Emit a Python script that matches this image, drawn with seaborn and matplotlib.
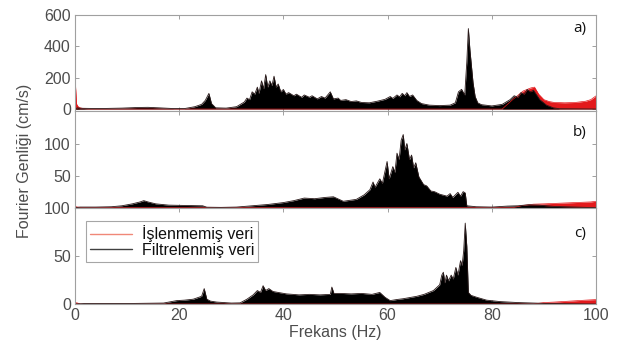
import numpy as np
import matplotlib
matplotlib.use("Agg")
import matplotlib.pyplot as plt
import seaborn as sns

# Envelope values (Hz, cm/s)
# panel a
freq_filt_a = [0, 0.5, 1, 3, 6, 9, 12, 14, 16, 19, 21, 23, 24.3, 25, 25.7, 26.2, 27, 29, 31,
               32.5, 33, 33.5, 34, 34.5, 35, 35.3, 35.8, 36.2, 36.6, 37, 37.4, 37.8, 38.2,
               38.6, 39, 39.5, 40, 40.5, 41, 42, 42.5, 43.5, 44, 45, 45.5, 46.5, 47.3, 48,
               49, 49.6, 50.5, 51, 52, 53, 54, 55, 56.5, 58, 59.5, 60.5, 61, 61.8, 62.3,
               62.8, 63.3, 63.7, 64.2, 64.8, 65.6, 66.5, 68, 70, 72, 73, 73.6, 74.2, 74.8,
               75.2, 75.5, 75.8, 76.1, 76.4, 76.8, 77.3, 78, 80, 82, 83.5, 84.3, 85, 85.6,
               86.2, 86.8, 87.4, 88, 89.2, 90.5, 91.8, 93, 100]
amp_filt_a = [0, 8, 5, 4, 4, 6, 10, 11, 8, 3, 3, 15, 30, 55, 100, 35, 8, 6, 15,
              45, 70, 60, 110, 95, 140, 100, 180, 130, 220, 140, 180, 150, 210,
              140, 160, 110, 125, 95, 105, 85, 95, 75, 90, 75, 85, 65, 80, 70,
              110, 65, 70, 55, 60, 48, 52, 42, 40, 50, 62, 80, 68, 90, 78,
              100, 85, 105, 80, 90, 55, 35, 25, 22, 25, 40, 110, 126, 90,
              300, 514, 378, 273, 168, 80, 40, 28, 20, 30, 60, 85, 75, 105,
              95, 125, 110, 120, 60, 25, 8, 2, 0]
freq_raw_a = [0, 0.15, 0.3, 0.6, 1, 1.5, 2.5, 82, 84, 86, 87.5, 88.2, 89, 90, 91, 92, 94,
              96, 98, 99, 100]
amp_raw_a = [193, 120, 32, 15, 8, 4, 0, 0, 60, 115, 135, 140, 95, 60, 48, 42, 40,
             42, 50, 60, 84]

# panel b
freq_filt_b = [0, 1, 4, 7, 9, 11, 12.5, 13.2, 14, 15.5, 18, 21, 24.5, 25.3, 28, 31, 34, 37,
               40, 42, 44, 46, 48, 49.6, 51.5, 54, 55.5, 56.6, 57.2, 57.6, 58.5, 59, 59.9,
               60.3, 61, 61.4, 61.8, 62.2, 62.6, 63, 63.3, 63.7, 64.2, 64.6, 65, 65.4, 66,
               66.9, 67.5, 68.3, 69, 70, 71.4, 72, 72.5, 73.5, 74, 74.5, 74.9, 75.2, 77, 80,
               83, 85, 87, 89, 92, 100]
amp_filt_b = [0, 1, 1, 1.5, 3, 6, 9, 11, 9, 6, 4, 3.5, 3, 0.8, 0.5, 1, 3, 5,
              8, 11, 15, 14, 16, 17, 10, 13, 20, 28, 40, 32, 45, 38, 72,
              45, 64, 55, 85, 75, 105, 114, 90, 100, 75, 82, 62, 70, 48,
              36, 34, 26, 25, 21, 18, 22, 16, 24, 18, 25, 23, 3, 1.5, 1,
              2.5, 3, 4.5, 4, 2, 0]
freq_raw_b = [0, 0.5, 1.5, 84, 86, 88, 90, 93, 96, 99, 100]
amp_raw_b = [2, 1, 0, 0, 3.5, 5.5, 6, 7, 8, 9, 10]

# panel c
freq_filt_c = [0, 2, 10, 17, 19.5, 21, 22.7, 24.3, 24.8, 25.3, 26, 27.2, 30, 31.7, 33, 34.2,
               35, 35.6, 36.1, 36.6, 37.2, 38, 39, 40.6, 43, 45, 47, 49, 49.3, 49.7, 51, 53,
               55, 57, 58.5, 59.5, 60.5, 61.7, 63, 65.6, 67, 68.8, 70, 70.4, 70.7, 71, 71.3,
               71.7, 72.2, 72.6, 73.1, 73.5, 74, 74.3, 74.6, 74.9, 75.2, 75.5, 76, 77.1, 79,
               81.6, 85, 88, 91, 100]
amp_filt_c = [0, 0.5, 0.5, 1, 3.5, 4, 5, 8, 16, 5, 3, 2, 1, 1.2, 5, 9.5,
              14, 12, 19, 14, 16, 13, 12, 10.5, 9.5, 10, 9.5, 10, 17.6, 11, 11, 10.5,
              11, 10, 12, 7, 3.5, 4.6, 5.5, 8, 10, 14, 20, 30, 33, 22, 30,
              24, 30, 26, 38, 30, 45, 40, 55, 84, 60, 12, 9, 7, 4,
              2.5, 1.5, 1, 0.5, 0]
freq_raw_c = [0, 0.5, 1, 88, 90, 92, 95, 98, 100]
amp_raw_c = [1.5, 1, 0, 0, 1.5, 2, 3, 4, 4.6]

panels = [
    ("a)", freq_raw_a, amp_raw_a, freq_filt_a, amp_filt_a, (-15, 600), [0, 200, 400, 600], 0.862),
    ("b)", freq_raw_b, amp_raw_b, freq_filt_b, amp_filt_b, (0, 150), [50, 100], 0.779),
    ("c)", freq_raw_c, amp_raw_c, freq_filt_c, amp_filt_c, (0, 100), [0, 50, 100], 0.737),
]

RED = "#e3191c"
BLACK = "#000000"
AXC = "#a0a0a0"
TXT = "#4d4d4d"

sns.set_theme(style="ticks")
plt.rcParams["font.family"] = ["Liberation Sans", "DejaVu Sans"]

fig = plt.figure(figsize=(6.19, 3.49), dpi=100)
left, width = 75 / 619, 521 / 619
h = 96.3 / 349
bottoms = [45 / 349 + 2 * h, 45 / 349 + h, 45 / 349]

axes = []
for (lab, fr, ar, ff, af, ylim, yt, ly), b in zip(panels, bottoms):
    ax = fig.add_axes([left, b, width, h])
    ax.fill_between(fr, 0, ar, color=RED, lw=0)
    sns.lineplot(x=fr, y=ar, ax=ax, color=RED, lw=0.5, label="İşlenmemiş veri", sort=False)
    ax.fill_between(ff, 0, af, color=BLACK, lw=0)
    sns.lineplot(x=ff, y=af, ax=ax, color="#2a1a1a", lw=0.6, label="Filtrelenmiş veri", sort=False)
    ax.set_xlim(0, 100)
    ax.set_ylim(*ylim)
    ax.set_xticks([0, 20, 40, 60, 80, 100])
    ax.set_yticks(yt)
    ax.tick_params(direction="in", top=True, right=True, length=3, width=0.7,
                   color=AXC, labelcolor=TXT, labelsize=11.5, pad=3)
    for s in ax.spines.values():
        s.set_color(AXC)
        s.set_linewidth(0.8)
    ax.set_xlabel("")
    ax.set_ylabel("")
    ax.text(0.969, ly, lab, transform=ax.transAxes, ha="center", va="center",
            fontsize=11, color="#111111", family=["Open Sans", "DejaVu Sans"])
    ax.get_legend().remove()
    axes.append(ax)

for ax in axes[:2]:
    ax.tick_params(labelbottom=False)

ax_c = axes[2]
handles, labels = ax_c.get_legend_handles_labels()
leg = ax_c.legend(handles, labels, loc="upper left", bbox_to_anchor=(0.022, 0.86),
                  fontsize=11.5, frameon=True, fancybox=False, edgecolor="#909090",
                  handlelength=2.6, handletextpad=0.6, labelspacing=0.05,
                  borderpad=0.25, borderaxespad=0)
leg.get_frame().set_linewidth(0.8)
leg_colors = ["#f08878", "#404040"]
for line, c in zip(leg.get_lines(), leg_colors):
    line.set_linewidth(1.0)
    line.set_color(c)
for t in leg.get_texts():
    t.set_color("#111111")

ax_c.set_xlabel("Frekans (Hz)", fontsize=11.5, color=TXT, labelpad=1)
fig.text(0.04, 0.54, "Fourier Genliği (cm/s)", rotation=90, ha="center", va="center",
         fontsize=11.5, color=TXT)

fig.savefig("out.png", dpi=100)
